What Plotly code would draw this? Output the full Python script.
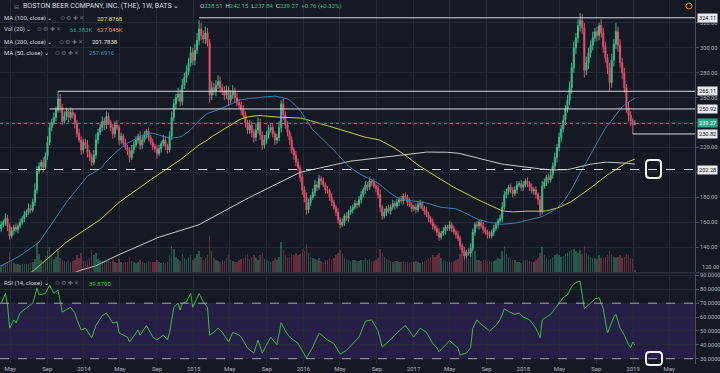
import pandas as pd
import plotly.graph_objects as go

# ---------------- data (weekly bars, Boston Beer) ----------------
first_open = 155.0
close_2013 = [158,160,163,157,149,153,156,154,157,160,
              163,166,168,171,170,176,186,201,205,208,
              204,213,224,236,240,244,250,259,252,241,
              245,249,244,248,246,239,231,226,218,224]
close_2014 = [222,216,212,208,214,226,232,236,241,238,
              245,240,236,231,238,236,226,229,224,220,
              217,212,218,222,226,229,222,226,230,233,
              228,224,221,219,215,219,223,226,221,218,
              229,244,255,260,263,257,270,276,281,288,
              296,290]
close_2015 = [298,306,315,310,307,312,304,262,268,265,
              270,273,268,265,262,266,258,262,265,260,
              256,254,250,246,240,234,238,232,228,234,
              240,230,222,226,230,234,236,231,226,228,
              236,255,246,238,232,226,218,214,208,204,
              196,186]
close_2016 = [180,170,176,180,184,190,188,195,193,190,
              186,185,180,176,172,168,162,158,160,165,
              163,168,170,172,175,174,178,182,186,190,
              188,193,192,189,187,182,172,165,168,171,
              169,172,175,173,176,178,177,181,180,176,
              174,171]
close_2017 = [172,170,174,175,171,169,166,163,160,157,
              155,152,148,151,153,156,155,158,155,152,
              150,147,141,137,133,136,135,139,152,158,
              157,160,157,154,152,150,149,152,155,158,
              161,163,172,182,184,188,186,183,186,190,
              191,188]
close_2018 = [190,193,191,188,185,186,182,178,169,189,
              192,196,194,198,205,212,220,228,235,242,
              251,258,268,284,300,308,318,322,316,282,
              288,296,302,308,313,310,318,312,301,292,
              284,272,290,303,313,302,288,280,268,252,
              246,241,238.51]
close_2019 = [239.27]

upper_2013 = [3,2,4,3,2,3,2,3,2,3, 2,3,2,4,3,3,5,4,3,2, 4,3,5,4,3,4,3,6,4,3, 4,3,2,4,3,2,3,4,3,3]
upper_2014 = [3,4,2,3,4,5,3,3,4,3, 4,3,2,3,3,4,2,3,2,3, 2,3,4,3,3,2,4,3,3,2, 3,2,3,2,3,3,2,4,3,2,
              4,5,4,3,5,4,5,4,5,4, 5,4]
upper_2015 = [5,6,7,5,4,5,4,3,5,4, 4,5,4,3,4,4,3,4,5,3, 4,3,3,4,3,2,4,3,3,5, 4,3,3,4,3,4,3,3,2,3,
              5,3,4,3,3,2,3,2,3,3, 2,3]
upper_2016 = [3,4,3,2,3,4,3,3,2,3, 2,3,2,3,2,2,3,2,3,2, 3,2,3,2,3,2,3,3,2,3, 2,3,2,3,2,3,4,2,3,2,
              3,2,3,2,3,2,3,2,3,2, 3,2]
upper_2017 = [2,3,2,3,2,2,3,2,2,3, 2,2,3,2,3,2,2,3,2,2, 2,3,2,2,3,2,3,4,3,2, 3,2,2,3,2,2,3,2,3,2,
              2,3,4,3,3,2,3,2,3,3, 2,3]
upper_2018 = [3,2,3,2,3,2,3,2,3,4, 3,2,3,4,3,4,3,4,3,4, 3,4,5,4,5,4,5,6,5,4, 5,4,4,5,3,4,2,5,4,4,
              3,4,5,4,7,4,5,4,4,3, 4,3,2.5]
upper_2019 = [2.88]

lower_2013 = [3,2,3,4,3,2,3,2,3,2, 2,3,2,2,3,2,3,3,2,3, 4,2,3,2,3,2,3,2,4,3, 2,3,4,2,3,4,3,2,4,3]
lower_2014 = [3,4,3,3,2,3,3,2,3,4, 3,2,3,4,3,2,4,3,3,2, 3,4,2,3,2,3,4,3,2,3, 3,2,3,3,4,2,3,2,3,3,
              2,3,3,4,3,4,3,3,4,3, 3,4]
lower_2015 = [4,3,4,4,3,4,3,6,4,3, 4,3,4,3,4,3,4,3,3,4, 3,3,4,3,4,3,3,4,4,3, 3,4,4,3,3,3,2,3,4,3,
              3,4,4,3,3,4,3,4,3,3, 4,4]
lower_2016 = [4,4,3,3,2,3,3,2,3,2, 3,2,3,3,2,3,3,3,2,3, 2,3,2,3,2,3,2,3,2,3, 3,2,3,2,3,3,4,3,2,3,
              2,3,2,3,2,3,2,3,2,3, 2,3]
lower_2017 = [2,3,2,3,2,3,2,3,2,3, 2,3,3,2,2,3,2,2,3,2, 3,2,3,2,3,2,2,3,2,3, 2,3,2,3,2,3,2,2,3,2,
              3,2,3,2,3,2,3,3,2,3, 2,3]
lower_2018 = [3,2,3,3,2,3,3,4,4,3, 2,3,3,2,3,3,4,3,4,3, 4,3,4,5,4,5,4,5,5,6, 4,5,4,4,3,5,4,4,5,4,
              5,7,4,5,4,5,4,5,4,4, 5,4,7.69]
lower_2019 = [0.67]

vol_2013 = [290,340,320,390,810,460,360,310,330,300, 340,320,340,330,360,400,540,1170,720,490,
            420,640,830,1000,670,540,610,860,580,500, 460,420,470,390,430,500,670,580,780,460]
vol_2014 = [430,500,580,890,690,750,530,490,460,420, 500,460,420,490,390,360,540,400,380,390,
            420,610,460,390,360,420,490,400,360,380, 460,420,390,410,490,400,360,390,370,410,
            670,1060,940,610,540,460,720,580,540,610, 670,500]
vol_2015 = [560,720,830,610,500,560,670,1440,830,560, 500,460,420,490,460,580,670,500,430,390,
            420,490,520,560,690,720,540,610,670,560, 500,690,750,540,490,440,420,460,560,500,
            610,1220,890,670,560,610,720,690,780,670, 720,940]
vol_2016 = [830,1110,780,610,560,530,490,560,460,420, 500,490,560,530,580,670,780,890,720,560,
            530,490,460,500,480,430,440,470,500,580, 490,510,460,430,480,560,940,780,610,520,
            490,460,420,460,430,390,410,440,420,390, 380,400]
vol_2017 = [420,440,390,380,420,460,500,560,610,690, 610,670,780,560,490,460,420,390,410,440,
            490,530,720,830,890,670,560,610,1220,830, 500,490,460,500,480,460,430,420,460,500,
            560,540,830,1060,720,610,560,500,490,420, 390,380]
vol_2018 = [460,500,480,440,420,410,490,560,780,1000, 670,560,500,530,610,670,720,690,610,640,
            720,780,830,890,940,830,780,890,720,1060, 780,690,610,580,560,540,670,580,560,610,
            690,830,720,610,560,610,670,560,610,720, 670,560,530]
vol_2019 = [66.383]

# RSI(14) read at selected weeks
rsi_weeks = [0,2,3,4,6,7,9,12,15,17,
             18,21,23,25,27,29,33,35,36,38,
             40,43,45,48,50,53,55,56,60,61,
             65,66,69,71,72,74,77,79,80,82,
             84,85,86,88,90,91,93,94,96,98,
             99,101,103,105,108,110,113,114,117,120,
             122,124,128,131,133,135,137,141,145,148,
             151,155,158,161,164,167,170,173,176,179,
             181,183,186,189,192,196,199,202,205,207,
             208,212,213,217,218,221,223,224,226,227,
             230,232,235,237,239,241,244,246,248,251,
             254,256,257,259,261,263,265,267,269,271,
             273,275,277,280,282,284,286,288,290,291,
             292,293,294,296,297,298,299,300,301]
rsi_values = [70,77,68.6,52,58,55.7,63,66.5,70,81,
              76,77,83,77,79.5,63.6,67,63,58,50.7,
              52,45,54,61,63,55.7,56.5,48.5,45.6,42,
              50.7,47,54,48.5,45.6,43.5,47,43.5,49,67,
              70,65,70,71,77,67,73.7,77,71,67,
              47,49,52,49,42,49,47,45.6,37.7,34,
              43.5,34,45.6,40,56,50,45.6,41,30.5,38.4,
              48.5,43.5,41,33.4,36,41,45.6,57,58,50,
              38.4,41,45.6,50,54,45.6,52,49,41,37.7,
              35,41,43,37.7,32.7,34,38,52,58,56,
              52,50,54,58,66,64,62,63,60,58,
              52,45,58,60,62,66,70,74,76,82,
              85,86,66,70,73,74,66,48.5,56,60,
              62,57,52,47,43.5,40,38,42,39.879]

# moving averages before enough bars exist
ma50_early_weeks = [0, 9, 18, 31, 41, 48]
ma50_early_vals = [125, 133, 144, 176, 197, 204]
ma100_early_weeks = [14, 16, 31, 47, 56, 71, 85, 94, 98]
ma100_early_vals = [119.5, 122, 144, 162, 176, 194, 210, 222, 226]
ma200_early_weeks = [33, 37, 45, 56, 75, 94, 118, 142, 166, 190, 198]
ma200_early_vals = [118, 121, 125, 134, 148, 158, 180, 200, 209, 214, 216]

# drawn horizontal levels: (price, week where drawing starts)
level_prices = [324.11, 265.11, 250.92, 230.82]
level_start_weeks = [94, 27, 23, 300]
dashed_level = 202.28
last_price = 239.27

month_ticks = ["2013-05-01", "2013-09-01", "2014-01-01", "2014-05-01", "2014-09-01", "2015-01-01",
               "2015-05-01", "2015-09-01", "2016-01-01", "2016-05-01", "2016-09-01", "2017-01-01",
               "2017-05-01", "2017-09-01", "2018-01-01", "2018-05-01", "2018-09-01", "2019-01-01",
               "2019-05-01"]
month_labels = ["May", "Sep", "2014", "May", "Sep", "2015", "May", "Sep", "2016", "May", "Sep",
                "2017", "May", "Sep", "2018", "May", "Sep", "2019", "May"]
price_ticks = [120, 140, 160, 180, 200, 220, 240, 260, 280, 300, 320]
price_hidden = [120, 200, 240]   # labels covered by boxes / drawn separately
rsi_ticks = [30, 40, 50, 60, 70, 80, 90]

# ---------------- build ----------------
closes = close_2013 + close_2014 + close_2015 + close_2016 + close_2017 + close_2018 + close_2019
uppers = upper_2013 + upper_2014 + upper_2015 + upper_2016 + upper_2017 + upper_2018 + upper_2019
lowers = lower_2013 + lower_2014 + lower_2015 + lower_2016 + lower_2017 + lower_2018 + lower_2019
volumes = vol_2013 + vol_2014 + vol_2015 + vol_2016 + vol_2017 + vol_2018 + vol_2019
n = len(closes)
assert len(uppers) == n and len(lowers) == n and len(volumes) == n, (n, len(uppers), len(lowers), len(volumes))
assert len(rsi_weeks) == len(rsi_values)

dates = pd.date_range("2013-04-01", periods=n, freq="7D")
opens = [first_open] + closes[:-1]
highs = [max(o, c) + u for o, c, u in zip(opens, closes, uppers)]
lows = [min(o, c) - l for o, c, l in zip(opens, closes, lowers)]

s = pd.Series(closes)
def ma_series(period, early_w, early_v):
    calc = s.rolling(period).mean()
    xs = [dates[i] for i in early_w] + list(dates[period - 1:])
    ys = list(early_v) + list(calc[period - 1:])
    return xs, ys

BG = "#151924"
GRID = "#252a37"
AX = "#4a4f5c"
TXT = "#b2b5be"
UP = "#3dbb8a"
DN = "#e0506a"

fig = go.Figure()

vol_colors = ["rgba(61,187,138,0.38)" if c >= o else "rgba(224,80,106,0.38)" for o, c in zip(opens, closes)]
fig.add_trace(go.Bar(x=dates, y=volumes, marker_color=vol_colors, marker_line_width=0,
                     width=7 * 86400000 * 0.7, yaxis="y2", hoverinfo="skip"))

for period, ew, ev, col in [(200, ma200_early_weeks, ma200_early_vals, "#c9c9c9"),
                            (100, ma100_early_weeks, ma100_early_vals, "#cfcf38"),
                            (50, ma50_early_weeks, ma50_early_vals, "#3b7cae")]:
    xs, ys = ma_series(period, ew, ev)
    fig.add_trace(go.Scatter(x=xs, y=ys, mode="lines", line=dict(color=col, width=1),
                             yaxis="y", hoverinfo="skip"))

fig.add_trace(go.Candlestick(x=dates, open=opens, high=highs, low=lows, close=closes,
                             increasing=dict(line=dict(color=UP, width=1), fillcolor=UP),
                             decreasing=dict(line=dict(color=DN, width=1), fillcolor=DN),
                             whiskerwidth=0, yaxis="y", hoverinfo="skip"))

fig.add_trace(go.Scatter(x=[dates[i] for i in rsi_weeks], y=rsi_values, mode="lines",
                         line=dict(color="#3dbb3d", width=1), yaxis="y3", hoverinfo="skip"))

PW, PH = 695.0, 364.0
main_bottom_px = 272.0
rsi_top_px = 273.5
x_end = "2019-07-26"

fig.update_layout(
    width=720, height=373, margin=dict(l=0, r=25, t=0, b=9),
    paper_bgcolor=BG, plot_bgcolor=BG, showlegend=False,
    font=dict(family="Roboto, Arial, sans-serif", color=TXT, size=6),
    bargap=0,
    xaxis=dict(type="date", range=["2013-03-28", x_end], domain=[0, 1], anchor="y3",
               tickvals=month_ticks, ticktext=month_labels, showgrid=True, gridcolor=GRID,
               gridwidth=1, zeroline=False, showline=False, ticks="",
               tickfont=dict(size=6, color=TXT), rangeslider=dict(visible=False), fixedrange=True),
    yaxis=dict(domain=[(PH - main_bottom_px) / PH, 1], range=[120.0, 338.4], side="right",
               anchor="x", tickvals=price_ticks,
               ticktext=["" if v in price_hidden else f"{v:.2f}" for v in price_ticks],
               showgrid=True, gridcolor=GRID, zeroline=False, showline=True, linecolor=AX,
               ticks="outside", ticklen=3, tickcolor=AX, tickfont=dict(size=5.6, color=TXT)),
    yaxis2=dict(overlaying="y", range=[0, 10900], visible=False, showgrid=False),
    yaxis3=dict(domain=[0, (PH - rsi_top_px) / PH], range=[26.18, 91.4], side="right",
                anchor="x", tickvals=rsi_ticks, ticktext=[f"{v:.4f}" for v in rsi_ticks],
                showgrid=True, gridcolor=GRID, zeroline=False, showline=True, linecolor=AX,
                ticks="outside", ticklen=3, tickcolor=AX, tickfont=dict(size=5.6, color=TXT)),
)

shapes = []
# RSI band and bounds
shapes.append(dict(type="rect", xref="x domain", yref="y3", x0=0, x1=1, y0=30, y1=70,
                   fillcolor="rgba(105,50,200,0.22)", line=dict(width=0), layer="below"))
for lv in (30, 70):
    shapes.append(dict(type="line", xref="x domain", yref="y3", x0=0, x1=1, y0=lv, y1=lv,
                       line=dict(color="#a3a6b0", width=1, dash="dash")))
# pane separator
sep = 1 - (main_bottom_px + 0.8) / PH
shapes.append(dict(type="line", xref="paper", yref="paper", x0=0, x1=720 / PW, y0=sep, y1=sep,
                   line=dict(color="#363a46", width=1)))
# drawn levels
for p, w in zip(level_prices, level_start_weeks):
    shapes.append(dict(type="line", xref="x", yref="y", x0=dates[w], x1=x_end, y0=p, y1=p,
                       line=dict(color="#d9dbe2", width=1)))
shapes.append(dict(type="line", xref="x domain", yref="y", x0=0, x1=1, y0=dashed_level, y1=dashed_level,
                   line=dict(color="#d9dbe2", width=1, dash="dash")))
shapes.append(dict(type="line", xref="x domain", yref="y", x0=0, x1=1, y0=last_price, y1=last_price,
                   line=dict(color="#2a9d80", width=1, dash="dot")))

def rounded_box(x0, y0, x1, y1, r):
    def P(x, y):
        return f"{x / PW:.5f},{1 - y / PH:.5f}"
    return (f"M {P(x0 + r, y0)} L {P(x1 - r, y0)} Q {P(x1, y0)} {P(x1, y0 + r)} "
            f"L {P(x1, y1 - r)} Q {P(x1, y1)} {P(x1 - r, y1)} L {P(x0 + r, y1)} "
            f"Q {P(x0, y1)} {P(x0, y1 - r)} L {P(x0, y0 + r)} Q {P(x0, y0)} {P(x0 + r, y0)} Z")

for bx in [(646, 160, 661, 178), (646, 352, 662, 365)]:
    shapes.append(dict(type="path", xref="paper", yref="paper", path=rounded_box(*bx, 3.5),
                       line=dict(color="#f0f0f0", width=2)))
shapes.append(dict(type="circle", xref="paper", yref="paper", x0=686 / PW, x1=692 / PW,
                   y0=1 - 9 / PH, y1=1 - 3 / PH, line=dict(color="#e8892b", width=1)))
fig.update_layout(shapes=shapes)

ann = []
def txt(x, y, text, color="#d1d4dc", size=6, anchor="left"):
    ann.append(dict(xref="paper", yref="paper", x=x / PW, y=1 - y / PH, xanchor=anchor,
                    yanchor="middle", text=text, showarrow=False,
                    font=dict(size=size, color=color)))

ICONS = "⊙ ⚙ ✚ ✕"
G = "#3dbb8a"
txt(12, 6, "⊟", "#8a8e99", 6)
txt(21, 6, "BOSTON BEER COMPANY, INC. (THE), 1W, BATS ⌄", "#d9dbe2", 7)
txt(198, 6, f"O<span style='color:{G}'>238.51</span>  H<span style='color:{G}'>242.15</span>  "
            f"L<span style='color:{G}'>237.84</span>  C<span style='color:{G}'>239.27</span>  "
            f"<span style='color:{G}'>+0.76 (+0.32%)</span>", "#d9dbe2", 6)
rows = [
    (18.3, "MA (100, close) ⌄", 58, [("207.8768", "#e3e32c", 95)]),
    (29.3, "Vol (20) ⌄", 35, [("66.383K", "#2fa58a", 68), ("627.045K", "#e8894a", 95)]),
    (41.7, "MA (200, close) ⌄", 57, [("201.7838", "#e6e6e6", 90)]),
    (52.7, "MA (50, close) ⌄", 53, [("257.6916", "#4a8ec2", 87)]),
    (283.3, "RSI (14, close) ⌄", 53, [("39.8790", "#3ed43e", 87)]),
]
for y, label, ix, vals in rows:
    txt(2, y, label, "#d1d4dc", 6)
    txt(ix, y, ICONS, "#6a6e79", 5.5)
    for v, c, vx in vals:
        txt(vx, y, v, c, 6)

# bottom price label, pushed up as the chart does at the pane edge
txt(699.5, 266.5, f"{price_ticks[0]:.2f}", TXT, 5.6)

# price axis boxes
for p, bg, fg in [(324.11, "#e8e9ee", "#131722"), (265.11, "#e8e9ee", "#131722"),
                  (250.92, "#e8e9ee", "#131722"), (last_price, "#2fa58a", "#ffffff"),
                  (230.82, "#e8e9ee", "#131722"), (dashed_level, "#e8e9ee", "#131722")]:
    ann.append(dict(xref="paper", yref="y", x=1, xshift=2, y=p, xanchor="left", yanchor="middle",
                    text=f"{p:.2f}", showarrow=False, bgcolor=bg, borderpad=1,
                    font=dict(size=5.6, color=fg)))
fig.update_layout(annotations=ann)

fig.write_html("out.html", include_plotlyjs=True, config={"displayModeBar": False},
               post_script="document.body.style.margin='0';document.body.style.padding='0';"
                           "document.body.style.overflow='hidden';")
